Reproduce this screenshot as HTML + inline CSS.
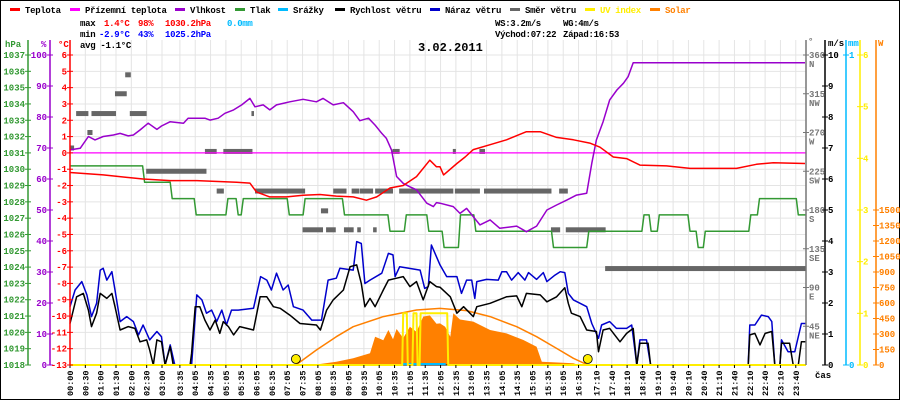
<!DOCTYPE html>
<html><head><meta charset="utf-8"><style>
html,body{margin:0;padding:0;background:#fff;}
svg{display:block;font-family:"Liberation Mono",monospace;font-weight:bold;}
</style></head><body>
<svg id="chart" width="900" height="400" viewBox="0 0 900 400" xmlns="http://www.w3.org/2000/svg">
<rect x="0.5" y="0.5" width="899" height="399" fill="#fff" stroke="#000"/>
<g id="grid"></g>
<g id="series"></g>
<g id="axes"></g>
<g id="legend" font-size="9" letter-spacing="-0.3"></g>
<g font-size="9" letter-spacing="-0.3">
<text x="80" y="26" fill="#000">max</text>
<text x="104" y="26" fill="#f00">1.4°C</text>
<text x="138" y="26" fill="#f00">98%</text>
<text x="165" y="26" fill="#f00">1030.2hPa</text>
<text x="227" y="26" fill="#0bf">0.0mm</text>
<text x="80" y="37" fill="#000">min</text>
<text x="99" y="37" fill="#00f">-2.9°C</text>
<text x="138" y="37" fill="#00f">43%</text>
<text x="165" y="37" fill="#00f">1025.2hPa</text>
<text x="80" y="48" fill="#000">avg -1.1°C</text>
<text x="495" y="26" fill="#000">WS:3.2m/s</text>
<text x="563" y="26" fill="#000">WG:4m/s</text>
<text x="495" y="37" fill="#000">Východ:07:22</text>
<text x="563" y="37" fill="#000">Západ:16:53</text>
</g>
<text x="418" y="51" font-size="12" fill="#000">3.02.2011</text>
</svg>
<script>
// ---- data ----
const timeLabels = ["00:00","00:30","01:00","01:30","02:00","02:30","03:00","03:35","04:05","04:35","05:05","05:35","06:05","06:35","07:05","07:35","08:05","08:35","09:05","09:35","10:05","10:35","11:05","11:35","12:05","12:35","13:05","13:35","14:05","14:35","15:05","15:35","16:05","16:35","17:10","17:40","18:10","18:40","19:10","19:40","20:10","20:40","21:10","21:40","22:10","22:40","23:10","23:40"];
const tempT = [0,65,143,196,248,326,352,365,391,424,456,489,521,554,580,600,626,652,678,704,717,724,731,757,773,789,822,854,893,920,952,985,1017,1037,1063,1089,1115,1167,1213,1304,1343,1376,1438];
const tempV = [-1.2,-1.35,-1.6,-1.7,-1.7,-1.8,-1.85,-2.4,-2.7,-2.7,-2.6,-2.55,-2.65,-2.7,-2.9,-2.7,-2.15,-2.0,-1.45,-0.45,-0.85,-0.85,-1.35,-0.65,-0.25,0.2,0.5,0.8,1.3,1.3,0.95,0.8,0.6,0.35,-0.25,-0.35,-0.75,-0.8,-0.95,-0.95,-0.7,-0.6,-0.65];
const feelT = [0,1440];
const feelV = [0,0];
const humT = [0,20,36,49,65,85,98,114,124,137,153,170,179,196,222,231,264,274,290,303,320,336,352,362,378,391,404,417,430,456,482,495,515,535,554,567,584,597,610,619,629,639,652,665,678,698,711,717,724,750,763,776,802,822,841,874,893,913,933,952,972,991,1011,1021,1030,1043,1056,1070,1083,1092,1102,1438];
const humV = [69.4,69.9,73.7,72.6,73.7,74.2,74.7,73.9,74.2,75.8,78,76,77.1,78.5,78,79.6,79.6,79,79.6,81.2,82.3,83.9,86,83.3,83.9,82.3,83.9,84.4,84.9,85.7,84.9,86,83.9,84.6,81.7,78.8,79.6,77.4,74.7,73.1,69.4,60.8,58.6,57.5,56.5,52.2,51.1,52.4,52.2,51.1,48.9,50.5,45.2,46.8,44.1,44.8,43,44.8,50,51.6,53.2,54.8,55.4,65.1,72.6,78.5,85.5,88.7,90.9,93,97.5,97.5];
const presT = [0,142,196,243,305,325,335,425,456,533,622,654,698,728,760,790,942,1011,1119,1133,1149,1209,1225,1239,1328,1345,1421];
const presV = [1030.2,1029.2,1028.2,1027.2,1028.2,1027.2,1028.2,1027.2,1028.2,1027.2,1026.2,1027.2,1026.2,1025.2,1027.2,1026.2,1025.2,1026.2,1027.2,1026.2,1027.2,1026.2,1025.2,1026.2,1027.2,1028.2,1027.2];
const windT = [0,13,26,36,42,52,59,72,82,88,98,114,127,137,150,156,163,170,179,186,196,202,235,238,245,254,264,274,284,293,300,310,320,332,359,372,385,398,411,430,450,482,490,502,515,535,548,561,570,577,587,597,613,623,639,652,665,678,691,704,717,724,744,757,770,789,796,822,854,874,884,893,920,933,952,968,975,981,998,1011,1030,1034,1043,1056,1076,1089,1102,1109,1115,1131,1136,1327,1330,1340,1350,1360,1373,1379,1389,1392,1408,1415,1425,1431,1439];
const windV = [1.34,2.2,2.31,1.77,1.24,1.67,2.31,2.15,2.31,1.88,1.13,1.24,1.18,0.75,0.81,0.48,0,0.81,0.75,0,0.59,0,0,0.38,1.88,1.88,1.45,1.13,1.45,1.02,1.4,1.24,0.97,1.24,1.13,2.2,2.2,1.88,1.83,1.61,1.34,1.29,1.13,1.77,2.1,2.42,3.17,3.23,2.63,1.88,2.15,1.88,2.42,2.74,2.8,2.85,2.53,2.69,2.1,2.69,2.53,2.51,2.2,1.67,1.88,1.56,1.88,1.99,2.2,2.23,1.88,2.31,2.26,2.04,2.2,2.49,1.99,1.67,1.56,1.13,1.08,0.43,1.13,1.18,0.75,1.02,1.18,0,0.7,0.7,0,0,0.97,1.02,0.65,1.02,1.08,0,0,0.7,0.7,0,0,0.75,0.75];
const gustT = [0,10,23,33,42,52,59,65,72,82,88,98,111,124,134,143,156,170,179,186,196,205,238,248,258,267,277,287,297,306,316,329,359,373,385,394,404,417,427,437,456,473,492,505,521,528,554,561,570,577,587,610,623,632,636,645,685,694,701,707,717,724,737,757,766,776,786,792,796,815,838,845,854,864,877,890,897,913,926,933,949,959,968,975,985,998,1011,1021,1034,1040,1056,1069,1089,1099,1109,1115,1128,1136,1327,1330,1340,1353,1366,1373,1379,1389,1392,1405,1418,1431,1439];
const gustV = [1.88,2.42,2.69,2.26,1.56,1.99,3.06,3.12,2.74,3.01,2.42,1.4,1.56,1.4,0.97,1.29,0.81,1.08,0.91,0,0.65,0,0,2.26,2.1,1.67,1.77,1.4,1.77,1.29,1.77,1.77,1.83,2.85,2.74,2.42,2.96,2.42,2.58,1.88,1.77,1.45,1.45,2.74,2.8,3.12,3.06,3.98,3.92,2.63,2.74,2.96,3.6,3.55,2.85,3.17,3.06,2.47,2.53,3.87,3.49,3.23,2.85,2.85,2.31,2.74,2.74,2.15,2.69,2.76,2.74,3.01,3.01,2.74,2.98,2.74,2.98,2.76,2.98,2.69,2.9,3.01,2.98,2.31,2.1,1.99,1.88,1.34,0.86,1.29,1.4,1.18,1.18,1.29,0,0.81,0.81,0,0,1.29,1.29,1.61,1.56,1.4,0,0,0.81,0.43,0.43,1.34,1.34];
const dirStart = [0,12,42,117,34,88,108,149,264,300,355,287,362,515,551,567,597,644,753,810,957,631,749,801,491,455,501,536,562,593,941,970,1047];
const dirEnd   = [8,36,90,150,44,111,119,267,287,357,360,301,460,541,566,593,632,750,802,942,974,645,755,812,505,495,520,555,569,600,959,1048,1440];
const dirVal   = [252,292,292,292,270,315,337,225,248,248,292,202,202,202,202,202,202,202,202,202,202,248,248,248,179,157,157,157,157,157,157,157,112];
const solT = [482,521,554,587,597,613,623,632,639,652,665,678,691,704,717,724,734,744,750,763,789,822,854,887,913,923,985,995];
const solV = [5,32,65,113,274,240,339,250,348,260,371,320,468,480,400,403,370,274,500,440,420,339,306,242,177,32,16,0];
const clearT = [442,482,521,554,613,678,724,776,822,874,913,952,985,1013];
const clearV = [0,145,274,371,468,532,548,526,468,371,274,161,65,0];
const uvT = [0,650,652,659,661,670,672,678,680,684,686,738,740,1440];
const uvV = [0,0,1,1,0,0,1,1,0,0,1,1,0,0];
const rainT = [650,735];
const rainV = [0,0];
const sunEvents = [442,1013];

// ---- scales ----
const X0=70, X1=806, Y0=55, Y1=365;
const xT = t => X0 + t*(X1-X0)/1440;
const yTemp = v => Y0 + (6-v)*(Y1-Y0)/19;
const yHum = v => Y1 - v*(Y1-Y0)/100;
const yPres = v => Y0 + (1037-v)*(Y1-Y0)/19;
const yWind = v => Y1 - v*(Y1-Y0)/10;
const yDir = v => Y1 - v*(Y1-Y0)/360;
const ySol = v => Y1 - v*155/1500;
const yUV = v => Y1 - v*(Y1-Y0)/6;
const NS="http://www.w3.org/2000/svg";
function mk(tag, attrs, parent){const e=document.createElementNS(NS,tag);for(const k in attrs)e.setAttribute(k,attrs[k]);parent.appendChild(e);return e;}
const grid=document.getElementById('grid'), ser=document.getElementById('series'), ax=document.getElementById('axes'), leg=document.getElementById('legend');

// grid
for(let i=0;i<=19;i++){const y=yTemp(6-i);
  const l=mk('line',{x1:X0,x2:X1,y1:y,y2:y,stroke:'#e4e4e4','stroke-width':1},grid);
  
  }
timeLabels.forEach(s=>{const [h,m]=s.split(':').map(Number);const x=xT(h*60+m);
  const l=mk('line',{x1:x,x2:x,y1:40,y2:Y1,stroke:'#e4e4e4','stroke-width':1},grid);
  
  
  const tk=mk('line',{x1:x,x2:x,y1:Y1,y2:Y1+3,stroke:'#000'},ax);
  
  
  const tx=mk('text',{x:0,y:0,transform:`translate(${x+3},396) rotate(-90)`,'font-size':8.5,fill:'#000'},ax);
  tx.textContent=s;
  
  });

function pts(T,V,fy){return T.map((t,i)=>xT(t).toFixed(1)+','+fy(V[i]).toFixed(1)).join(' ');}
function line(T,V,fy,color,w,name){const p=mk('polyline',{points:pts(T,V,fy),fill:'none',stroke:color,'stroke-width':w,'stroke-linejoin':'round'},ser);
  
  return p;}

// solar fill
{let d=`M${xT(solT[0])},${Y1} `+solT.map((t,i)=>`L${xT(t).toFixed(1)},${ySol(solV[i]).toFixed(1)}`).join(' ')+` L${xT(solT[solT.length-1])},${Y1} Z`;
 const p=mk('path',{d:d,fill:'#ff8000'},ser);
 
 }
line(clearT,clearV,ySol,'#ff8000',1.5,'solar-clear-sky-line');
// wind direction
dirStart.forEach((s,i)=>{const r=mk('rect',{x:xT(s),y:yDir(dirVal[i])-2.5,width:Math.max(2,xT(dirEnd[i])-xT(s)),height:5,fill:'#666'},ser);
  
  });
// pressure (step)
{let T=[],V=[];presT.forEach((t,i)=>{if(i>0){T.push(t);V.push(presV[i-1]);T.push(t+4);V.push(presV[i]);}else{T.push(t);V.push(presV[i]);}});T.push(1440);V.push(presV[presV.length-1]);
 line(T,V,yPres,'#339933',1.5,'pressure-line');}
line(feelT,feelV,yTemp,'#ff00ff',1.2,'apparent-temperature-line');
line(humT,humV,yHum,'#9900cc',1.5,'humidity-line');
line(tempT,tempV,yTemp,'#ff0000',1.5,'temperature-line');
line(gustT,gustV,yWind,'#0000cc',1.5,'wind-gust-line');
line(windT,windV,yWind,'#000000',1.5,'wind-speed-line');
// baseline
{const b=mk('line',{x1:X0,x2:X1,y1:Y1,y2:Y1,stroke:'#000',"stroke-width":1},ser);
 
 }
line(rainT,rainV,v=>Y1-1,'#00bbff',2,'precipitation-line');
line(uvT,uvV,yUV,'#ffee00',2,'uv-index-line');
sunEvents.forEach(t=>{const c=mk('circle',{cx:xT(t),cy:Y1-6,r:4.5,fill:'#ffee00',stroke:'#000','stroke-width':0.8},ser);
  
  });

// axes
function vaxis(x,color,name){const l=mk('line',{x1:x,x2:x,y1:40,y2:Y1,stroke:color,'stroke-width':1.5},ax);
  
  }
function lab(x,y,s,color,anchor,name,fs){const t=mk('text',{x:x,y:y,fill:color,'text-anchor':anchor||'start','font-size':fs||9},ax);t.textContent=s;
  
  return t;}
function tick(x,y,color,dir){const t=mk('line',{x1:x-3,x2:x+3,y1:y,y2:y,stroke:color},ax);
  
  }
vaxis(28,'#339933','pressure-axis'); vaxis(50,'#9900cc','humidity-axis'); vaxis(X0,'#ff0000','temperature-axis');
vaxis(X1,'#777','wind-direction-axis'); vaxis(825,'#000','wind-speed-axis'); vaxis(846,'#00bbff','precipitation-axis'); vaxis(860,'#ffee00','uv-axis'); vaxis(876,'#ff8000','solar-axis');
lab(5,47,'hPa','#339933','start','pressure-axis-title'); lab(41,47,'%','#9900cc','start','humidity-axis-title'); lab(58,47,'°C','#ff0000','start','temperature-axis-title');
lab(808,44,'°','#777','start','direction-axis-title'); lab(828,46,'m/s','#000','start','wind-axis-title'); lab(848,46,'mm','#00bbff','start','rain-axis-title'); lab(878,46,'W','#ff8000','start','solar-axis-title');
for(let p=1018;p<=1037;p++){const y=yPres(p);tick(28,y,'#339933');lab(25,y+3,String(p),'#339933','end','pressure-tick-label');}
for(let h=0;h<=100;h+=10){const y=yHum(h);tick(50,y,'#9900cc');lab(47,y+3,String(h),'#9900cc','end','humidity-tick-label');}
for(let c=-13;c<=6;c++){const y=yTemp(c);tick(X0,y,'#ff0000');lab(67,y+3,String(c),'#ff0000','end','temperature-tick-label');}
const dirNames=['NE','E','SE','S','SW','W','NW','N'];
for(let i=1;i<=8;i++){const y=yDir(i*45);tick(X1,y,'#777');lab(809,y+3,String(i*45),'#777','start','direction-tick-label');lab(809,y+12,dirNames[i-1],'#777','start','direction-name-label');}
for(let w=0;w<=10;w++){const y=yWind(w);tick(825,y,'#000');lab(828,y+3,String(w),'#000','start','wind-tick-label');}
tick(846,yWind(0),'#00bbff');lab(849,yWind(0)+3,'0','#00bbff','start','rain-tick-label');tick(846,Y0,'#00bbff');lab(849,Y0+3,'1','#00bbff','start','rain-tick-label');
for(let u=0;u<=6;u++){const y=yUV(u);tick(860,y,'#ffee00');lab(863,y+3,String(u),'#ffee00','start','uv-tick-label');}
for(let s=0;s<=1500;s+=150){const y=ySol(s);tick(876,y,'#ff8000');lab(879,y+3,String(s),'#ff8000','start','solar-tick-label');}
lab(815,378,'čas','#000','start','time-axis-title');

// legend
const legNames=['Teplota','Přízemní teplota','Vlhkost','Tlak','Srážky','Rychlost větru','Náraz větru','Směr větru','UV index','Solar'];
const legColors=['#ff0000','#ff00ff','#9900cc','#339933','#00bbff','#000000','#0000cc','#666666','#ffee00','#ff8000'];
const legX=[10,70,175,235,278,335,430,510,585,650];
legNames.forEach((n,i)=>{const g=mk('g',{},leg);
  
  
  mk('rect',{x:legX[i],y:8,width:10,height:3,fill:legColors[i]},g);
  const t=mk('text',{x:legX[i]+15,y:13,fill:(i>=8?legColors[i]:'#000')},g);t.textContent=n;});
</script>
</body></html>
